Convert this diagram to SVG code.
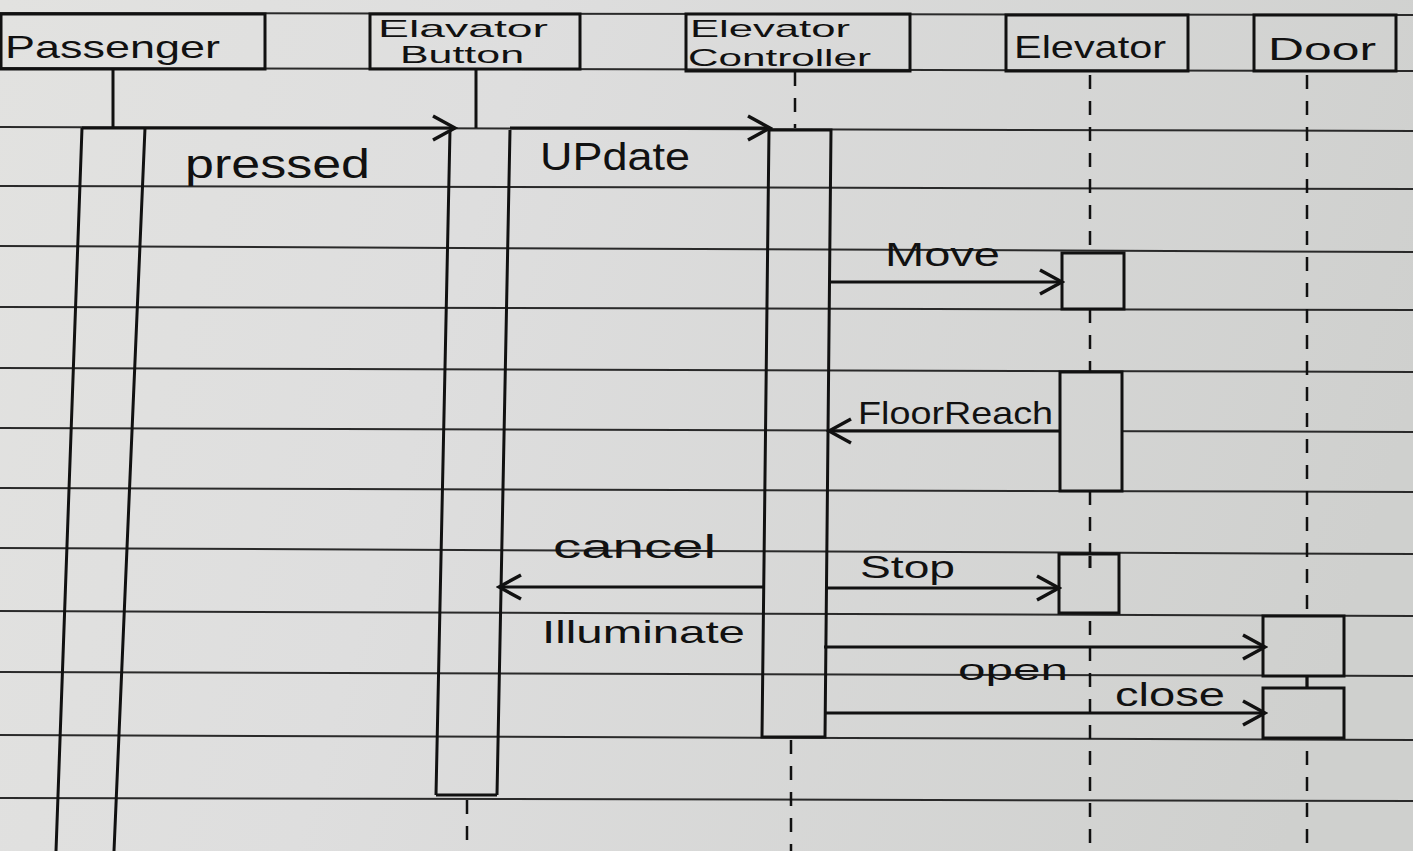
<svg xmlns="http://www.w3.org/2000/svg" width="1413" height="851" viewBox="0 0 1413 851">
<defs>
<linearGradient id="paper" gradientUnits="userSpaceOnUse" x1="0" y1="0" x2="1413" y2="400">
<stop offset="0" stop-color="#e2e2e0"/>
<stop offset="0.35" stop-color="#dedede"/>
<stop offset="1" stop-color="#cfd0ce"/>
</linearGradient>
<marker id="open" viewBox="0 0 28 28" refX="25" refY="14" markerWidth="28" markerHeight="28" markerUnits="userSpaceOnUse" orient="auto-start-reverse">
<path d="M3,2 L25,14 L3,26" fill="none" stroke="#111" stroke-width="3.5"/>
</marker>
<style>
.rule{stroke:#2a2a2a;stroke-width:2;fill:none}
.ink{stroke:#111;stroke-width:3;fill:none}
.dash{stroke:#111;stroke-width:2.5;fill:none;stroke-dasharray:14 12}
.msg{stroke:#111;stroke-width:3;fill:none;marker-end:url(#open)}
.box{stroke:#111;stroke-width:3;fill:none}
.act{stroke:#111;stroke-width:3;fill:url(#paper)}
text{font-family:"Liberation Sans","DejaVu Sans",sans-serif;fill:#111}
.hd{font-size:32px}
.hs{font-size:24px}
.lb{font-size:34px}
</style>
</defs>
<rect x="0" y="0" width="1413" height="851" fill="url(#paper)"/>
<g id="ruled-paper">
<path class="rule" d="M0,13 L1413,15"/>
<path class="rule" d="M0,68 L1413,71"/>
<path class="rule" d="M0,127 L1413,131"/>
<path class="rule" d="M0,186 L1413,189"/>
<path class="rule" d="M0,246 L1413,252"/>
<path class="rule" d="M0,307 L1413,310"/>
<path class="rule" d="M0,368 L1413,372"/>
<path class="rule" d="M0,428 L1413,432"/>
<path class="rule" d="M0,488 L1413,492"/>
<path class="rule" d="M0,548 L1413,554"/>
<path class="rule" d="M0,611 L1413,616"/>
<path class="rule" d="M0,672 L1413,676"/>
<path class="rule" d="M0,735 L1413,740"/>
<path class="rule" d="M0,798 L1413,801"/>
</g>
<g id="passenger">
<rect class="box" x="1" y="14" width="264" height="55"/>
<text class="hd" x="5" y="58" textLength="215" lengthAdjust="spacingAndGlyphs">Passenger</text>
<path class="ink" d="M113,69 L113,128"/>
<path class="ink" d="M82,128 L56,851 M145,128 L114,851 M82,128 L145,128"/>
</g>
<g id="elevator-button">
<rect class="box" x="370" y="14" width="210" height="55"/>
<text class="hs" x="378" y="37" textLength="170" lengthAdjust="spacingAndGlyphs">Elavator</text>
<text class="hs" x="400" y="63" textLength="124" lengthAdjust="spacingAndGlyphs">Button</text>
<path class="ink" d="M476,69 L476,128"/>
<path class="ink" d="M450,130 L436,795 M510,130 L497,795 M436,795 L497,795"/>
<path class="dash" d="M467,800 L467,851"/>
</g>
<g id="elevator-controller">
<rect class="box" x="686" y="14" width="224" height="57"/>
<text class="hs" x="690" y="37" textLength="160" lengthAdjust="spacingAndGlyphs">Elevator</text>
<text class="hs" x="688" y="66" textLength="183" lengthAdjust="spacingAndGlyphs">Controller</text>
<path class="dash" d="M795,72 L795,128"/>
<path class="ink" d="M769,130 L831,130 L825,737 L762,737 Z"/>
<path class="dash" d="M791,740 L791,851"/>
</g>
<g id="elevator">
<rect class="box" x="1006" y="15" width="182" height="56"/>
<text class="hd" x="1014" y="58" textLength="152" lengthAdjust="spacingAndGlyphs">Elevator</text>
<path class="dash" d="M1090,75 L1090,851"/>
<rect class="act" x="1062" y="253" width="62" height="56"/>
<rect class="act" x="1060" y="372" width="62" height="119"/>
<rect class="act" x="1059" y="554" width="60" height="59"/>
<path class="ink" d="M1090,556 L1090,568"/>
</g>
<g id="door">
<rect class="box" x="1254" y="15" width="142" height="56"/>
<text class="hd" x="1268" y="60" textLength="108" lengthAdjust="spacingAndGlyphs">Door</text>
<path class="dash" d="M1307,75 L1307,851"/>
<rect class="act" x="1263" y="616" width="81" height="60"/>
<path class="ink" d="M1307,676 L1307,688"/>
<rect class="act" x="1263" y="688" width="81" height="50"/>
</g>
<g id="connectors">
<path class="msg" d="M145,128 L455,128"/>
<path class="msg" d="M510,128 L770,128"/>
<path class="msg" d="M831,282 L1062,282"/>
<path class="msg" d="M1060,431 L829,431"/>
<path class="msg" d="M763,587 L499,587"/>
<path class="msg" d="M827,588 L1059,588"/>
<path class="msg" d="M824,647 L1265,647"/>
<path class="msg" d="M826,713 L1265,713"/>
</g>
<g id="labels">
<text class="lb" x="185" y="178" style="font-size:40px" textLength="185" lengthAdjust="spacingAndGlyphs">pressed</text>
<text class="lb" x="540" y="170" style="font-size:38px" textLength="150" lengthAdjust="spacingAndGlyphs">UPdate</text>
<text class="lb" x="885" y="266" textLength="115" lengthAdjust="spacingAndGlyphs">Move</text>
<text class="lb" x="858" y="424" style="font-size:32px" textLength="195" lengthAdjust="spacingAndGlyphs">FloorReach</text>
<text class="lb" x="553" y="558" textLength="163" lengthAdjust="spacingAndGlyphs">cancel</text>
<text class="lb" x="860" y="578" style="font-size:32px" textLength="95" lengthAdjust="spacingAndGlyphs">Stop</text>
<text class="lb" x="542" y="643" style="font-size:32px" textLength="203" lengthAdjust="spacingAndGlyphs">Illuminate</text>
<text class="lb" x="958" y="680" style="font-size:30px" textLength="110" lengthAdjust="spacingAndGlyphs">open</text>
<text class="lb" x="1115" y="706" textLength="110" lengthAdjust="spacingAndGlyphs">close</text>
</g>
</svg>
